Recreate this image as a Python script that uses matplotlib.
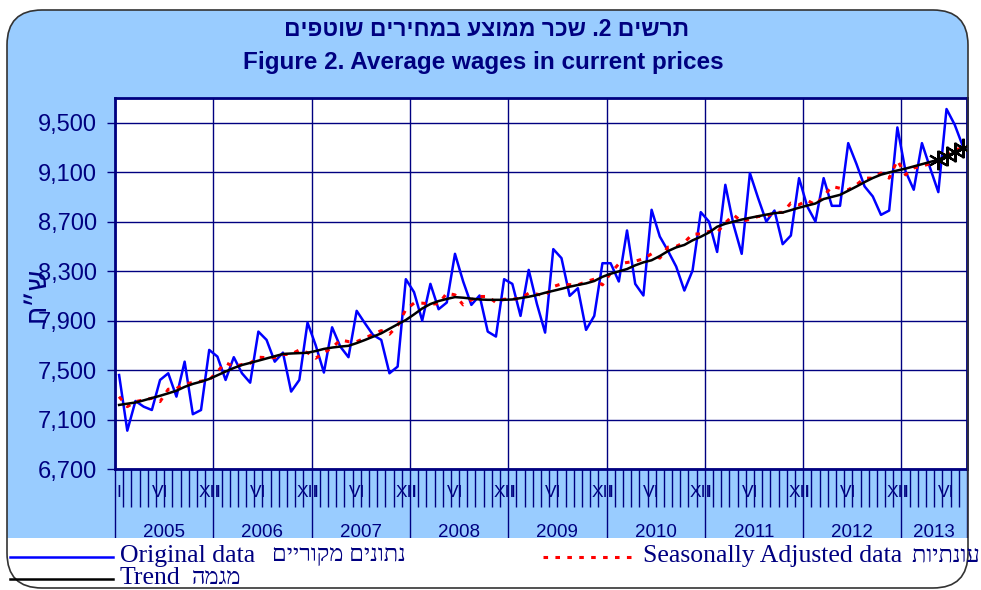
import matplotlib
matplotlib.use('Agg')
import matplotlib.pyplot as plt
import matplotlib.transforms as mtransforms
from matplotlib.patches import FancyBboxPatch, Rectangle
from matplotlib.lines import Line2D

# Data (monthly, Jan 2005 - Aug 2013)
years = [2005, 2006, 2007, 2008, 2009, 2010, 2011, 2012, 2013]
month_labels = {0: 'I', 5: 'VI', 11: 'XII'}
yticks = [6700, 7100, 7500, 7900, 8300, 8700, 9100, 9500]

original = [7460, 7010, 7250, 7204, 7177, 7420, 7474, 7285, 7568, 7143, 7177, 7663,
            7609, 7420, 7604, 7474, 7398, 7811, 7744, 7568, 7641, 7326, 7420, 7884,
            7700, 7480, 7846, 7690, 7604, 7979, 7879, 7784, 7744, 7474, 7528, 8235,
            8130, 7900, 8197, 7992, 8046, 8440, 8216, 8027, 8103, 7811, 7771, 8235,
            8197, 7938, 8310, 8035, 7803, 8478, 8405, 8100, 8162, 7825, 7938, 8364,
            8364, 8216, 8629, 8197, 8103, 8796, 8580, 8464, 8337, 8143, 8305, 8777,
            8701, 8455, 8998, 8675, 8440, 9093, 8891, 8701, 8790, 8518, 8588, 9052,
            8823, 8701, 9052, 8828, 8828, 9335, 9168, 8985, 8904, 8755, 8790, 9462,
            9107, 8958, 9335, 9134, 8939, 9611, 9484, 9308]

seasonal = [7285, 7204, 7245, 7258, 7272, 7245, 7345, 7350, 7390, 7398, 7410, 7420,
            7488, 7560, 7528, 7545, 7555, 7604, 7600, 7600, 7625, 7628, 7663, 7641,
            7596, 7640, 7680, 7744, 7730, 7730, 7758, 7790, 7819, 7790, 7860, 7990,
            8041, 8041, 8035, 8035, 8122, 8108, 8027, 8068, 8095, 8095, 8046, 8073,
            8073, 8080, 8122, 8114, 8100, 8175, 8197, 8190, 8189, 8215, 8235, 8189,
            8284, 8359, 8370, 8380, 8400, 8440, 8405, 8494, 8500, 8532, 8600, 8600,
            8621, 8613, 8690, 8755, 8701, 8720, 8742, 8742, 8775, 8775, 8850, 8837,
            8872, 8837, 8904, 8985, 8970, 8958, 8998, 9052, 9052, 9093, 9052, 9196,
            9079, 9134, 9150, 9168, 9187, 9241, 9282, 9295]

trend = [7218, 7228, 7238, 7255, 7274, 7292, 7312, 7333, 7364, 7388, 7406, 7428,
         7458, 7488, 7517, 7541, 7558, 7576, 7594, 7612, 7630, 7634, 7637, 7640,
         7654, 7671, 7682, 7690, 7696, 7718, 7743, 7770, 7797, 7834, 7870, 7905,
         7950, 7998, 8034, 8058, 8075, 8090, 8085, 8078, 8071, 8068, 8068, 8068,
         8071, 8082, 8093, 8107, 8125, 8141, 8157, 8174, 8188, 8201, 8220, 8254,
         8279, 8298, 8317, 8347, 8371, 8388, 8422, 8462, 8492, 8512, 8549, 8578,
         8612, 8659, 8683, 8700, 8717, 8731, 8744, 8757, 8769, 8774, 8793, 8813,
         8830, 8847, 8883, 8900, 8917, 8950, 8984, 9020, 9053, 9080, 9098, 9114,
         9129, 9147, 9165, 9183, 9201, 9230, 9260, 9293]
n_provisional = 4  # last trend points drawn with star markers

# Hebrew strings in visual (left-to-right) order
title_he = 'םיפטוש םיריחמב עצוממ רכש .2 םישרת'
ylabel_he = 'ח״ש'
orig_he = 'םיירוקמ םינותנ'
sa_he = 'תויתנוע יכונמ םינותנ'
trend_he = 'המגמ'

NAVY = '#000080'
BOX = '#99CCFF'
SANS = ['Liberation Sans', 'DejaVu Sans']
SERIF = ['Liberation Serif', 'DejaVu Sans']

W, H = 981, 590
fig = plt.figure(figsize=(W / 100, H / 100), dpi=100)

# background box (pixel coordinates)
bg = fig.add_axes([0, 0, 1, 1], zorder=0)
bg.set_xlim(0, W)
bg.set_ylim(H, 0)
bg.axis('off')
bg.add_patch(FancyBboxPatch((7, 10), 961, 578, boxstyle='round,pad=0,rounding_size=35',
                            fc=BOX, ec='none'))
bg.text(487, 30, title_he, ha='center', va='center', fontsize=16.5, fontweight='bold',
        color=NAVY, family=SANS)
bg.text(483, 62, 'Figure 2. Average wages in current prices', ha='center', va='center',
        fontsize=17.5, fontweight='bold', color=NAVY, family=SANS)
bg.text(38, 294, ylabel_he, ha='center', va='center', rotation=90, fontsize=20,
        color=NAVY, family=SANS)

# main plot
ax = fig.add_axes([115 / W, 1 - 469 / H, 852 / W, 371 / H], zorder=2)
n = len(original)
x = [i + 0.5 for i in range(n)]
ax.plot(x, original, color='#0000FF', lw=1.8, zorder=3)
ax.plot(x, seasonal, color='#FF0000', lw=2.2, ls=(0, (1.5, 2.4)), zorder=4)
ax.plot(x, trend, color='black', lw=1.8, zorder=5)
ax.plot(x[-n_provisional:], trend[-n_provisional:], ls='none', marker=(6, 2, 0),
        ms=14, mec='black', mew=1.6, zorder=6)

ax.set_xlim(0, n)
ax.set_ylim(6700, 9700)
ax.set_yticks(yticks)
ax.set_yticklabels([f'{v:,}' for v in yticks])
ax.set_xticks(list(range(0, n, 12)) + [n])
ax.set_xticks(range(n + 1), minor=True)
ax.grid(True, axis='y', color=NAVY, lw=1)
ax.grid(True, axis='x', which='major', color=NAVY, lw=1)
ax.set_axisbelow(True)
ax.tick_params(axis='x', which='major', direction='out', length=50, width=1,
               color=NAVY, labelbottom=False)
ax.tick_params(axis='x', which='minor', direction='out', length=27, width=1,
               color=NAVY, labelbottom=False)
ax.tick_params(axis='y', direction='out', length=6, width=1, color=NAVY,
               labelcolor=NAVY, labelsize=17, pad=7)
for lab in ax.get_yticklabels():
    lab.set_family(SANS)
for sp in ax.spines.values():
    sp.set_color(NAVY)
    sp.set_linewidth(2)

tr = mtransforms.blended_transform_factory(ax.transData, ax.transAxes)
for k, yr in enumerate(years):
    start = 12 * k
    for m, lab in month_labels.items():
        if start + m < n:
            ax.text(start + m + 0.5, -0.062, lab, transform=tr, ha='center', va='center',
                    fontsize=12.5, color=NAVY, family=SANS, clip_on=False)
    end = min(start + 12, n)
    ax.text((start + end) / 2, -0.17, str(yr), transform=tr, ha='center', va='center',
            fontsize=13.5, color=NAVY, family=SANS, clip_on=False)

# foreground: white legend band, frame, legend
fg = fig.add_axes([0, 0, 1, 1], zorder=5)
fg.set_xlim(0, W)
fg.set_ylim(H, 0)
fg.axis('off')
fg.add_patch(Rectangle((0, 538), W, 60, fc='white', ec='none'))
fg.add_patch(Rectangle((968.5, 0), 20, H, fc='white', ec='none'))
fg.add_patch(FancyBboxPatch((7, 10), 961, 578, boxstyle='round,pad=0,rounding_size=35',
                            fc='none', ec='#333333', lw=1.2))

fg.add_line(Line2D([10, 113], [557, 557], color='#0000FF', lw=1.8))
fg.text(120, 556, 'Original data', ha='left', va='center', fontsize=18.5, color=NAVY, family=SERIF)
fg.text(272, 556, orig_he, ha='left', va='center', fontsize=17, color=NAVY, family=SERIF)
fg.add_line(Line2D([10, 113], [579, 579], color='black', lw=1.8))
fg.text(120, 578, 'Trend', ha='left', va='center', fontsize=18.5, color=NAVY, family=SERIF)
fg.text(192, 578, trend_he, ha='left', va='center', fontsize=17, color=NAVY, family=SERIF)
fg.add_line(Line2D([543, 632], [557, 557], color='#FF0000', lw=2.2, ls=(0, (1.5, 2.4))))
fg.text(643, 556, 'Seasonally Adjusted data', ha='left', va='center', fontsize=18.5,
        color=NAVY, family=SERIF)
fg.text(912, 556, sa_he, ha='left', va='center', fontsize=17, color=NAVY, family=SERIF)

fig.savefig('out.png', dpi=100)
